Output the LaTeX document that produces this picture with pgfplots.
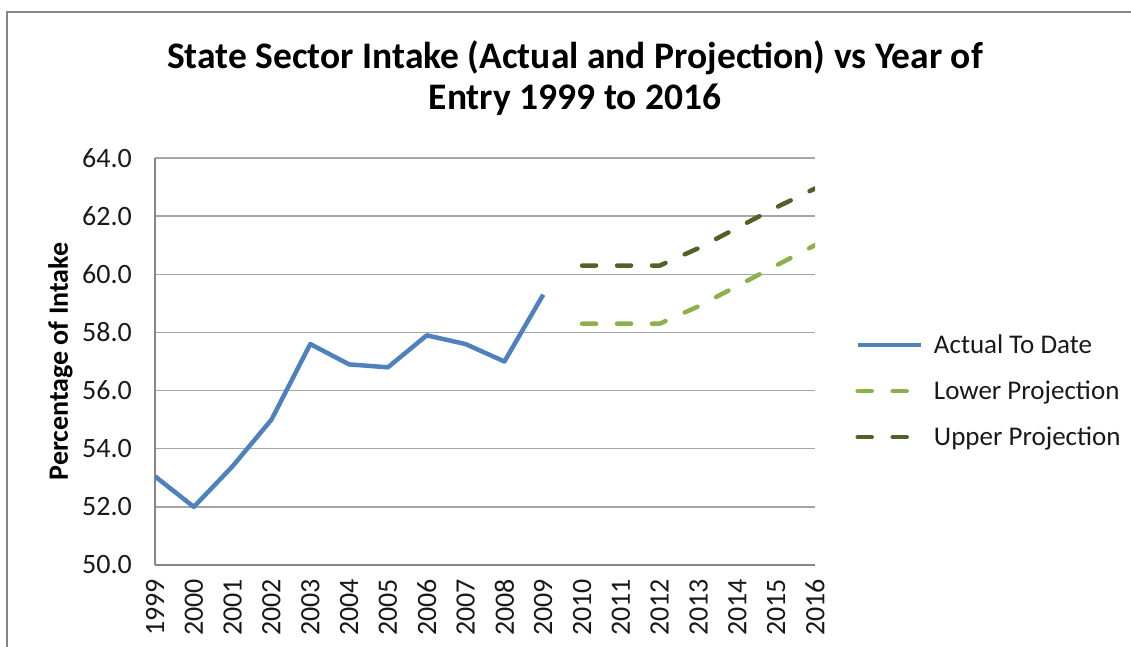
\documentclass[border=0pt]{standalone}
\usepackage{pgfplots}
\pgfplotsset{compat=1.18}
\usepackage{fontspec}
\setmainfont{Carlito}
\definecolor{actual}{HTML}{4F81BD}
\definecolor{lowerp}{HTML}{8EB04C}
\definecolor{upperp}{HTML}{4F6228}
\definecolor{gridc}{HTML}{A6A6A6}
\definecolor{framec}{HTML}{868686}
\begin{document}
\begin{tikzpicture}
\path[use as bounding box] (0pt,0pt) rectangle (1131pt,646pt);
\draw[framec, line width=2pt] (7pt,-2pt) -- (7pt,634pt) -- (1135pt,634pt);
\node[font=\fontsize{37.5}{42}\selectfont\bfseries, anchor=center] at (575pt,588pt) {State Sector Intake (Actual and Projection) vs Year of};
\node[font=\fontsize{37.5}{42}\selectfont\bfseries, anchor=center] at (575pt,546pt) {Entry 1999 to 2016};
\begin{axis}[
  at={(155pt,81pt)}, anchor=south west,
  scale only axis, width=660pt, height=407pt,
  xmin=1999, xmax=2016, ymin=50, ymax=64,
  xtick={1999,2000,2001,2002,2003,2004,2005,2006,2007,2008,2009,2010,2011,2012,2013,2014,2015,2016},
  xticklabels={1999,2000,2001,2002,2003,2004,2005,2006,2007,2008,2009,2010,2011,2012,2013,2014,2015,2016},
  ytick={50,52,54,56,58,60,62,64},
  yticklabel style={/pgf/number format/fixed, /pgf/number format/fixed zerofill, /pgf/number format/precision=1},
  /pgf/number format/assume math mode=true,
  tick label style={font=\fontsize{28}{32}\selectfont, text=black!90},
  xticklabel style={rotate=90, anchor=east, inner sep=0pt, xshift=-14pt},
  yticklabel style={inner sep=0pt, xshift=-23pt},
  major tick length=0pt,
  axis lines*=left,
  axis line style={framec, line width=1.5pt},
  ymajorgrids, grid style={gridc, line width=1.5pt},
  ylabel={Percentage of Intake},
  ylabel style={font=\fontsize{28}{32}\selectfont\bfseries, at={(ticklabel cs:0.5)}, anchor=south, yshift=6pt},
  legend style={at={(1.061,0.4275)}, anchor=west, draw=none, fill=none,
    font=\fontsize{27}{31}\selectfont, text=black!90, row sep=22pt, inner sep=0pt},
  legend cell align=left,
  legend image code/.code={\draw[#1] (0pt,0pt) -- (63pt,0pt); \path (72pt,0pt);},
]
\addplot[actual, line width=4.5pt, line join=round] coordinates {
(1999,53.05) (2000,52.0) (2001,53.4) (2002,55.0) (2003,57.6) (2004,56.9) (2005,56.8) (2006,57.9) (2007,57.6) (2008,57.0) (2009,59.3)};
\addlegendentry{Actual To Date}
\addplot[lowerp, line width=4.5pt, line cap=round, dash pattern=on 14pt off 21pt] coordinates {
(2010,58.3) (2011,58.3) (2012,58.3) (2013,58.9) (2014,59.6) (2015,60.3) (2016,61.0)};
\addlegendentry{Lower Projection}
\addplot[upperp, line width=4.5pt, line cap=round, dash pattern=on 14pt off 21pt] coordinates {
(2010,60.3) (2011,60.3) (2012,60.3) (2013,60.9) (2014,61.6) (2015,62.3) (2016,62.95)};
\addlegendentry{Upper Projection}
\end{axis}
\end{tikzpicture}
\end{document}
